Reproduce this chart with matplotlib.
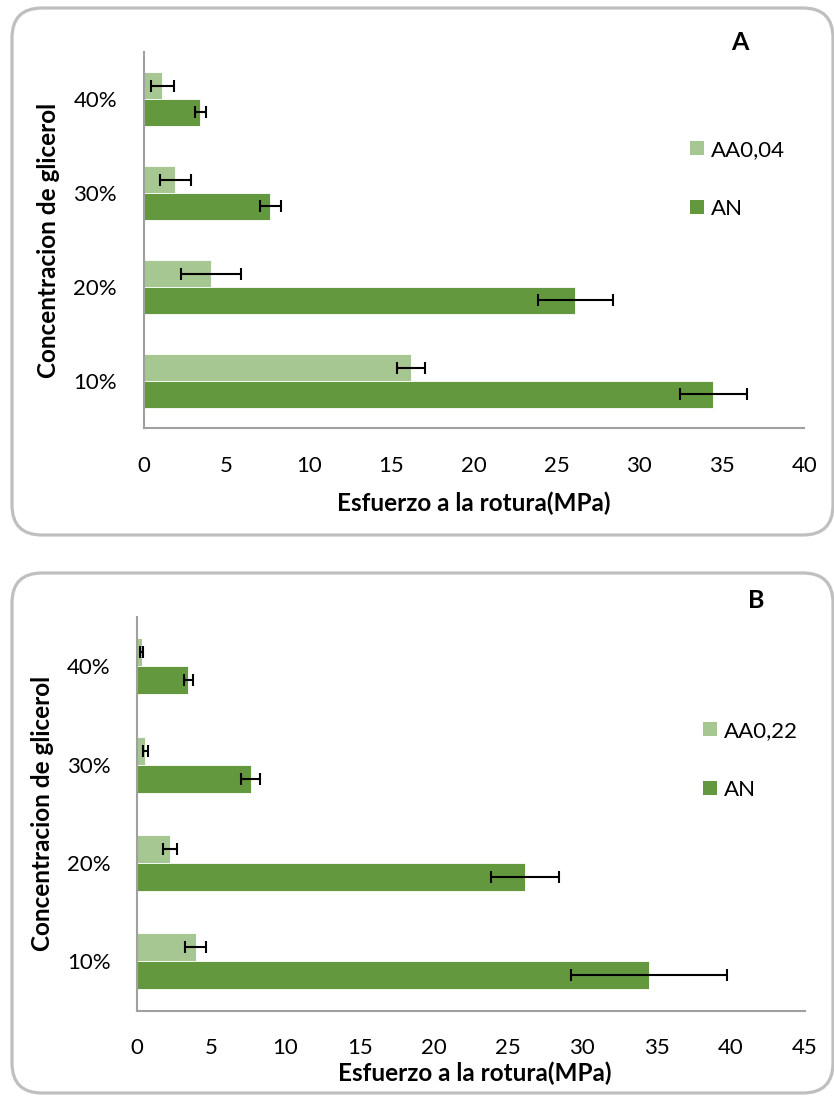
import matplotlib
matplotlib.use("Agg")
import matplotlib.pyplot as plt
from matplotlib.patches import FancyBboxPatch, Patch

plt.rcParams['font.family'] = ['Lato', 'DejaVu Sans']

# Data: tensile strength (MPa) by glycerol concentration
categories = ["10%", "20%", "30%", "40%"]

an_vals = [34.5, 26.15, 7.67, 3.45]
an_err_a = [2.05, 2.28, 0.63, 0.32]
aa004_vals = [16.2, 4.09, 1.93, 1.14]
aa004_err = [0.83, 1.84, 0.95, 0.69]

an_err_b = [5.24, 2.28, 0.64, 0.31]
aa022_vals = [3.96, 2.22, 0.56, 0.32]
aa022_err = [0.70, 0.46, 0.16, 0.10]

xticks_a = [0, 5, 10, 15, 20, 25, 30, 35, 40]
xticks_b = [0, 5, 10, 15, 20, 25, 30, 35, 40, 45]

LIGHT = "#A6C692"
DARK = "#63983E"
W, H = 834, 1097

fig = plt.figure(figsize=(W / 100, H / 100), dpi=100)

# Background layer with rounded panel frames, in pixel coordinates
bg = fig.add_axes([0, 0, 1, 1])
bg.set_xlim(0, W)
bg.set_ylim(H, 0)
bg.axis("off")
for (x0, y0, x1, y1) in [(12, 8, 833, 535), (12, 573, 833, 1093)]:
    bg.add_patch(FancyBboxPatch((x0, y0), x1 - x0, y1 - y0,
                                boxstyle="round,pad=0,rounding_size=30",
                                facecolor="white", edgecolor="#BFBFBF",
                                linewidth=2.3))


def panel(rect, aa_vals, aa_err, an_err, aa_label, xmax, xticks, letter,
          letter_xy, leg_xy, ylab_x, xlab_xy):
    ax = fig.add_axes(rect)
    pos = list(range(len(categories)))
    h = 0.285
    ek = dict(ecolor="black", elinewidth=1.5, capsize=4.5, capthick=1.5)
    ax.barh([p + h / 2 for p in pos], aa_vals, height=h, color=LIGHT,
            edgecolor="white", linewidth=0.6, xerr=aa_err, error_kw=ek,
            label=aa_label, zorder=2)
    ax.barh([p - h / 2 for p in pos], an_vals, height=h, color=DARK,
            edgecolor="white", linewidth=0.6, xerr=an_err, error_kw=ek,
            label="AN", zorder=2)
    ax.set_xlim(0, xmax)
    ax.set_ylim(-0.5, len(categories) - 0.5)
    ax.set_xticks(xticks)
    ax.set_xticklabels([str(t) for t in xticks])
    ax.set_yticks(pos)
    ax.set_yticklabels(categories)
    ax.tick_params(axis="both", length=0, labelsize=16, colors="black")
    ax.tick_params(axis="y", pad=19)
    ax.tick_params(axis="x", pad=20)
    for s in ["top", "right"]:
        ax.spines[s].set_visible(False)
    for s in ["left", "bottom"]:
        ax.spines[s].set_color("#A0A0A0")
        ax.spines[s].set_linewidth(1.5)
    ax.set_facecolor("none")
    ax.set_ylabel("Concentracion de glicerol", fontsize=17.5,
                  fontweight="bold", va="center")
    ax.yaxis.set_label_coords(ylab_x, 0.5)
    ax.set_xlabel("Esfuerzo a la rotura(MPa)", fontsize=17.5,
                  fontweight="bold", va="center")
    ax.xaxis.set_label_coords(*xlab_xy)
    fig.text(letter_xy[0] / W, 1 - letter_xy[1] / H, letter, fontsize=18,
             fontweight="bold", ha="center", va="center")
    handles = [Patch(facecolor=LIGHT, edgecolor="none"),
               Patch(facecolor=DARK, edgecolor="none")]
    ax.legend(handles, [aa_label, "AN"], loc="upper left",
              bbox_to_anchor=(leg_xy[0] / W, 1 - leg_xy[1] / H),
              bbox_transform=fig.transFigure, frameon=False, fontsize=16,
              handlelength=0.62, handleheight=0.62, handletextpad=0.3,
              labelspacing=1.75, borderpad=0, borderaxespad=0)
    return ax


panel([143.5 / W, 1 - 428 / H, 660.8 / W, 376 / H], aa004_vals, aa004_err,
      an_err_a, "AA0,04", 40, xticks_a, "A", (740, 42), (690, 140),
      (49 - 143.5) / 660.8, (0.5, (428 - 503) / 376))
panel([137 / W, 1 - 1010.5 / H, 668 / W, 393.5 / H], aa022_vals, aa022_err,
      an_err_b, "AA0,22", 45, xticks_b, "B", (756, 601), (703, 721),
      (43 - 137) / 668, (0.506, (1010.5 - 1073) / 393.5))

fig.savefig("out.png", dpi=100)
